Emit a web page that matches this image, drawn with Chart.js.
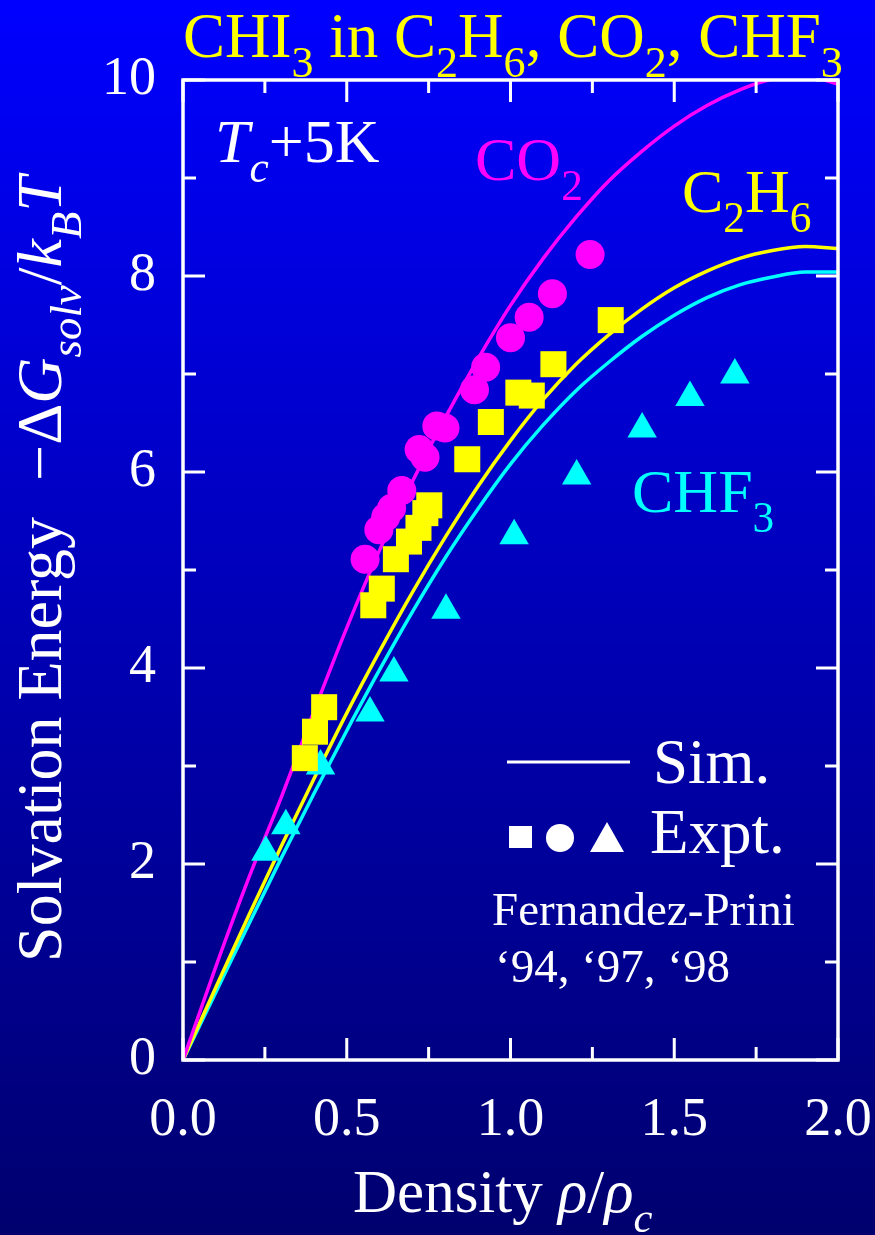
<!DOCTYPE html>
<html>
<head>
<meta charset="utf-8">
<script src="https://cdn.jsdelivr.net/npm/chart.js@4.4.1/dist/chart.umd.min.js"></script>
<style>
  html, body { margin: 0; padding: 0; background: #00006e; }
  canvas { display: block; }
</style>
</head>
<body>
<canvas id="chart" width="875" height="1235" style="width:875px;height:1235px"></canvas>
<script>
// Reduced density grid for the simulation curves
const simDensity = [0, 0.1, 0.2, 0.3, 0.4, 0.5, 0.6, 0.7, 0.8, 0.9, 1.0,
                    1.1, 1.2, 1.3, 1.4, 1.5, 1.6, 1.7, 1.8, 1.9, 2.0];
// Simulated solvation energy -dG/kT
const simCO2  = [0, 0.95, 1.85, 2.68, 3.56, 4.41, 5.20, 5.90, 6.55, 7.15, 7.70,
                 8.18, 8.60, 8.97, 9.27, 9.53, 9.74, 9.90, 10.01, 10.04, 9.96];
const simC2H6 = [0, 0.74, 1.47, 2.18, 2.87, 3.54, 4.17, 4.77, 5.33, 5.85, 6.32,
                 6.74, 7.10, 7.40, 7.66, 7.88, 8.05, 8.18, 8.26, 8.30, 8.28];
const simCHF3 = [0, 0.69, 1.38, 2.06, 2.72, 3.36, 3.98, 4.57, 5.12, 5.62, 6.08,
                 6.48, 6.83, 7.12, 7.38, 7.60, 7.78, 7.91, 7.99, 8.04, 8.04];

// Experimental points (Fernandez-Prini)
const exptCO2Density  = [0.556, 0.598, 0.619, 0.637, 0.668, 0.721, 0.739, 0.775,
                         0.800, 0.890, 0.924, 1.000, 1.057, 1.128, 1.243];
const exptCO2Energy   = [5.11, 5.41, 5.54, 5.63, 5.81, 6.23, 6.15, 6.47,
                         6.45, 6.84, 7.07, 7.37, 7.58, 7.82, 8.22];
const exptC2H6Density = [0.372, 0.403, 0.431, 0.581, 0.607, 0.650, 0.690, 0.719,
                         0.740, 0.752, 0.868, 0.940, 1.024, 1.065, 1.131, 1.306];
const exptC2H6Energy  = [3.08, 3.35, 3.60, 4.64, 4.81, 5.11, 5.29, 5.43,
                         5.58, 5.66, 6.13, 6.51, 6.81, 6.78, 7.10, 7.55];
const exptCHF3Density = [0.253, 0.314, 0.420, 0.571, 0.644, 0.803, 1.011, 1.202,
                         1.402, 1.548, 1.685];
const exptCHF3Energy  = [2.12, 2.39, 3.00, 3.54, 3.95, 4.59, 5.35, 5.96,
                         6.44, 6.76, 6.99];

// Axis ticks
const xTicks = [0, 0.5, 1.0, 1.5, 2.0];
const yTicks = [0, 2, 4, 6, 8, 10];

const SERIF = '"Liberation Serif", "Times New Roman", Times, serif';
const MAGENTA = '#ff00ff', YELLOW = '#ffff00', CYAN = '#00ffff', WHITE = '#ffffff';

const pairs = (xs, ys) => xs.map((x, i) => ({ x, y: ys[i] }));

// Measure / draw a run of text pieces (upright, italic, subscript) along a baseline
function runsWidth(ctx, runs, size) {
  let w = 0;
  for (const r of runs) {
    ctx.font = (r.it ? 'italic ' : '') + (r.sub ? size * 0.7 : size) + 'px ' + SERIF;
    w += ctx.measureText(r.t).width + (r.gap || 0);
  }
  return w;
}
function drawRuns(ctx, runs, x, y, size, color) {
  let cx = x;
  ctx.fillStyle = color;
  ctx.textAlign = 'left';
  ctx.textBaseline = 'alphabetic';
  for (const r of runs) {
    ctx.font = (r.it ? 'italic ' : '') + (r.sub ? size * 0.7 : size) + 'px ' + SERIF;
    ctx.fillText(r.t, cx, y + (r.sub ? size * 0.32 : 0));
    cx += ctx.measureText(r.t).width + (r.gap || 0);
  }
}

const backdrop = {
  id: 'backdrop',
  beforeDraw(chart) {
    const { ctx, width, height } = chart;
    const g = ctx.createLinearGradient(0, 0, 0, height);
    g.addColorStop(0, '#0000ff');
    g.addColorStop(1, '#00006e');
    ctx.save();
    ctx.fillStyle = g;
    ctx.fillRect(0, 0, width, height);
    ctx.restore();
  }
};

const frame = {
  id: 'frame',
  afterDatasetsDraw(chart) {
    const { ctx, chartArea: a, scales: { x, y } } = chart;
    const MAJOR = 22, MINOR = 13;
    ctx.save();
    ctx.strokeStyle = WHITE;
    ctx.lineWidth = 3;
    ctx.lineCap = 'butt';
    ctx.beginPath();
    for (let i = 0; i < xTicks.length; i++) {
      const px = x.getPixelForValue(xTicks[i]);
      ctx.moveTo(px, a.bottom); ctx.lineTo(px, a.bottom - MAJOR);
      ctx.moveTo(px, a.top); ctx.lineTo(px, a.top + MAJOR);
      if (i < xTicks.length - 1) {
        const pm = x.getPixelForValue((xTicks[i] + xTicks[i + 1]) / 2);
        ctx.moveTo(pm, a.bottom); ctx.lineTo(pm, a.bottom - MINOR);
        ctx.moveTo(pm, a.top); ctx.lineTo(pm, a.top + MINOR);
      }
    }
    for (let i = 0; i < yTicks.length; i++) {
      const py = y.getPixelForValue(yTicks[i]);
      ctx.moveTo(a.left, py); ctx.lineTo(a.left + MAJOR, py);
      ctx.moveTo(a.right, py); ctx.lineTo(a.right - MAJOR, py);
      if (i < yTicks.length - 1) {
        const pm = y.getPixelForValue((yTicks[i] + yTicks[i + 1]) / 2);
        ctx.moveTo(a.left, pm); ctx.lineTo(a.left + MINOR, pm);
        ctx.moveTo(a.right, pm); ctx.lineTo(a.right - MINOR, pm);
      }
    }
    ctx.stroke();
    ctx.lineWidth = 3.5;
    ctx.strokeRect(a.left, a.top, a.right - a.left, a.bottom - a.top);
    ctx.restore();
  }
};

const annotations = {
  id: 'annotations',
  afterDraw(chart) {
    const { ctx } = chart;
    ctx.save();

    // Title
    drawRuns(ctx, [
      { t: 'CHI' }, { t: '3', sub: true }, { t: ' in C' }, { t: '2', sub: true },
      { t: 'H' }, { t: '6', sub: true }, { t: ', CO' }, { t: '2', sub: true },
      { t: ', CHF' }, { t: '3', sub: true }
    ], 183, 57, 63, YELLOW);

    // Temperature
    drawRuns(ctx, [{ t: 'T', it: true }, { t: 'c', it: true, sub: true }, { t: '+5K' }],
             215, 162, 62, WHITE);

    // Series labels
    drawRuns(ctx, [{ t: 'CO' }, { t: '2', sub: true }], 475, 180, 62, MAGENTA);
    drawRuns(ctx, [{ t: 'C' }, { t: '2', sub: true }, { t: 'H' }, { t: '6', sub: true }],
             682, 212, 62, YELLOW);
    drawRuns(ctx, [{ t: 'CHF' }, { t: '3', sub: true }], 632, 512, 62, CYAN);

    // Key
    ctx.strokeStyle = WHITE;
    ctx.lineWidth = 3;
    ctx.beginPath();
    ctx.moveTo(507, 762); ctx.lineTo(630, 762);
    ctx.stroke();
    drawRuns(ctx, [{ t: 'Sim.' }], 653, 783, 63, WHITE);

    ctx.fillStyle = WHITE;
    ctx.fillRect(509, 826, 23, 22);
    ctx.beginPath();
    ctx.arc(560, 838, 14, 0, Math.PI * 2);
    ctx.fill();
    ctx.beginPath();
    ctx.moveTo(607, 822); ctx.lineTo(624, 852); ctx.lineTo(590, 852);
    ctx.closePath();
    ctx.fill();
    drawRuns(ctx, [{ t: 'Expt.' }], 650, 853, 63, WHITE);

    drawRuns(ctx, [{ t: 'Fernandez-Prini' }], 492, 925, 47, WHITE);
    drawRuns(ctx, [{ t: '\u201894, \u201897, \u201898' }], 495, 982, 47, WHITE);

    // X axis title
    const xRuns = [{ t: 'Density ' }, { t: '\u03c1', it: true }, { t: '/' },
                   { t: '\u03c1', it: true }, { t: 'c', it: true, sub: true }];
    drawRuns(ctx, xRuns, 353, 1212, 61, WHITE);

    // Y axis title (rotated)
    const yRuns = [{ t: 'Solvation Energy', gap: 36 }, { t: '\u2212\u0394' },
                   { t: 'G', it: true }, { t: 'solv', it: true, sub: true },
                   { t: '/' }, { t: 'k', it: true }, { t: 'B', it: true, sub: true },
                   { t: 'T', it: true }];
    const yw = runsWidth(ctx, yRuns, 64);
    ctx.translate(61, 569);
    ctx.rotate(-Math.PI / 2);
    drawRuns(ctx, yRuns, -yw / 2, 0, 64, WHITE);

    ctx.restore();
  }
};

new Chart(document.getElementById('chart'), {
  type: 'scatter',
  data: {
    datasets: [
      { label: 'CO2 sim', data: pairs(simDensity, simCO2), showLine: true,
        borderColor: MAGENTA, borderWidth: 3.5, pointRadius: 0,
        cubicInterpolationMode: 'monotone', order: 2 },
      { label: 'C2H6 sim', data: pairs(simDensity, simC2H6), showLine: true,
        borderColor: YELLOW, borderWidth: 3.5, pointRadius: 0,
        cubicInterpolationMode: 'monotone', order: 2 },
      { label: 'CHF3 sim', data: pairs(simDensity, simCHF3), showLine: true,
        borderColor: CYAN, borderWidth: 3.5, pointRadius: 0,
        cubicInterpolationMode: 'monotone', order: 2 },
      { label: 'CO2 expt', data: pairs(exptCO2Density, exptCO2Energy),
        pointStyle: 'circle', pointRadius: 14.5, backgroundColor: MAGENTA,
        borderWidth: 0, order: 1 },
      { label: 'C2H6 expt', data: pairs(exptC2H6Density, exptC2H6Energy),
        pointStyle: 'rect', pointRadius: 18.4, backgroundColor: YELLOW,
        borderWidth: 0, order: 0 },
      { label: 'CHF3 expt', data: pairs(exptCHF3Density, exptCHF3Energy),
        pointStyle: 'triangle', pointRadius: 17, backgroundColor: CYAN,
        borderWidth: 0, order: 0 }
    ]
  },
  options: {
    responsive: false,
    devicePixelRatio: 1,
    animation: false,
    events: [],
    layout: { padding: { top: 80, right: 37, bottom: 0, left: 0 } },
    plugins: { legend: { display: false }, tooltip: { enabled: false } },
    scales: {
      x: {
        type: 'linear', min: 0, max: 2,
        afterBuildTicks: s => { s.ticks = xTicks.map(v => ({ value: v })); },
        afterFit: s => { s.height = 175; s.paddingLeft = 0; s.paddingRight = 0; },
        grid: { display: false, drawTicks: false },
        border: { display: false },
        ticks: { color: WHITE, font: { family: SERIF, size: 54 }, padding: 28,
                 maxRotation: 0, callback: v => Number(v).toFixed(1) }
      },
      y: {
        type: 'linear', min: 0, max: 10,
        afterBuildTicks: s => { s.ticks = yTicks.map(v => ({ value: v })); },
        afterFit: s => { s.width = 183; s.paddingTop = 0; s.paddingBottom = 0; },
        grid: { display: false, drawTicks: false },
        border: { display: false },
        ticks: { color: WHITE, font: { family: SERIF, size: 54 }, padding: 27,
                 callback: v => String(v) }
      }
    }
  },
  plugins: [backdrop, frame, annotations]
});
</script>
</body>
</html>
